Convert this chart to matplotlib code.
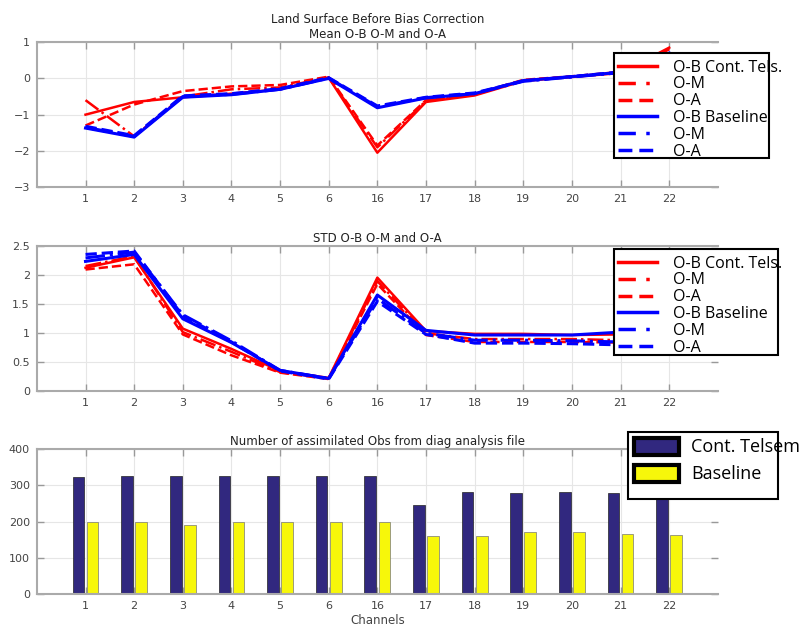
import numpy as np
import matplotlib
matplotlib.use("Agg")
import matplotlib.pyplot as plt
from matplotlib.patches import Rectangle, Patch
from matplotlib.lines import Line2D

# channels on the x axis
channels = ['1', '2', '3', '4', '5', '6', '16', '17', '18', '19', '20', '21', '22']

# mean departures
mean_ob_cont = [-1.0, -0.65, -0.52, -0.42, -0.3, 0.02, -2.05, -0.65, -0.47, -0.07, 0.04, 0.15, 0.85]
mean_om_cont = [-0.6, -1.6, -0.5, -0.3, -0.25, 0.03, -1.9, -0.62, -0.45, -0.05, 0.05, 0.17, 0.8]
mean_oa_cont = [-1.3, -0.72, -0.35, -0.22, -0.18, 0.05, -1.85, -0.6, -0.43, -0.04, 0.06, 0.18, 0.82]
mean_ob_base = [-1.37, -1.62, -0.52, -0.45, -0.3, 0.0, -0.81, -0.54, -0.42, -0.06, 0.05, 0.17, 0.7]
mean_om_base = [-1.35, -1.6, -0.5, -0.44, -0.3, 0.01, -0.78, -0.53, -0.42, -0.08, 0.04, 0.16, 0.65]
mean_oa_base = [-1.32, -1.58, -0.48, -0.42, -0.28, 0.02, -0.76, -0.52, -0.4, -0.07, 0.05, 0.18, 0.68]

# std departures
std_ob_cont = [2.13, 2.31, 1.08, 0.73, 0.35, 0.23, 1.96, 1.04, 0.99, 0.99, 0.97, 0.98, 1.0]
std_om_cont = [2.16, 2.33, 1.02, 0.68, 0.33, 0.22, 1.9, 1.0, 0.9, 0.9, 0.9, 0.88, 0.9]
std_oa_cont = [2.1, 2.19, 0.98, 0.62, 0.32, 0.21, 1.85, 0.97, 0.85, 0.85, 0.85, 0.84, 0.85]
std_ob_base = [2.24, 2.36, 1.25, 0.84, 0.36, 0.22, 1.66, 1.05, 0.97, 0.97, 0.97, 1.02, 1.05]
std_om_base = [2.3, 2.4, 1.32, 0.87, 0.36, 0.22, 1.6, 1.0, 0.88, 0.88, 0.87, 0.85, 0.85]
std_oa_base = [2.36, 2.42, 1.3, 0.85, 0.35, 0.21, 1.55, 0.98, 0.83, 0.83, 0.82, 0.8, 0.8]

# number of assimilated obs
nobs_cont = [322, 325, 325, 325, 325, 325, 325, 247, 281, 278, 281, 278, 280]
nobs_base = [199, 199, 190, 199, 199, 199, 199, 160, 161, 170, 170, 165, 163]

plt.rcParams['font.family'] = ['DejaVu Sans']

RED = '#ff0000'
BLUE = '#0000ff'
GRAY = '#444444'
LEG_FONT = ['Open Sans', 'DejaVu Sans']
x = np.arange(1, len(channels) + 1)

fig = plt.figure(figsize=(8.02, 6.30), dpi=100)
W, H = 802, 630


def style_axes(ax, ylim, yticks):
    ax.set_xlim(0, 14)
    ax.set_ylim(*ylim)
    ax.set_xticks(x)
    ax.set_xticklabels(channels)
    ax.set_yticks(yticks)
    ax.grid(True, color='#e6e6e6', lw=0.8)
    ax.set_axisbelow(True)
    ax.tick_params(direction='in', length=5, width=1, color='#999999',
                   labelcolor=GRAY, labelsize=8, top=True, right=True, pad=5)
    for s in ['top', 'bottom', 'left']:
        ax.spines[s].set_color('#aaaaaa')
        ax.spines[s].set_linewidth(1.5)
    ax.spines['right'].set_visible(False)


def legend_box(x0, y0, x1, y1):
    # frame in pixel coords (top-left origin); white fill sits over the axes,
    # the black frame on top so legend text may run over it
    xy = (x0 / W, 1 - y1 / H)
    w, h = (x1 - x0) / W, (y1 - y0) / H
    fig.patches.append(Rectangle(xy, w, h, transform=fig.transFigure,
                                 fc='white', ec='none', zorder=2))
    fig.patches.append(Rectangle(xy, w, h, transform=fig.transFigure,
                                 fill=False, ec='black', lw=1.5, zorder=10))


line_labels = ['O-B Cont. Tels.', 'O-M', 'O-A', 'O-B Baseline', 'O-M', 'O-A']
line_handles = [Line2D([], [], color=RED, lw=2.5, ls='-'),
                Line2D([], [], color=RED, lw=2.5, ls=(0, (5, 3, 1, 3))),
                Line2D([], [], color=RED, lw=2.5, ls=(0, (4, 2))),
                Line2D([], [], color=BLUE, lw=2.5, ls='-'),
                Line2D([], [], color=BLUE, lw=2.5, ls=(0, (5, 3, 1, 3))),
                Line2D([], [], color=BLUE, lw=2.5, ls=(0, (4, 2)))]


def line_legend(px, py):
    leg = fig.legend(line_handles, line_labels, loc='upper left',
                     bbox_to_anchor=(px / W, 1 - py / H), frameon=False,
                     labelspacing=0.05, handlelength=2.45, handletextpad=1.0,
                     borderpad=0.1, borderaxespad=0,
                     prop={'family': LEG_FONT, 'size': 11.5})
    leg.set_zorder(6)


# ---- mean
ax1 = fig.add_axes([0.046, 0.703, 0.849, 0.230])
ax1.plot(x, mean_ob_cont, color=RED, lw=1.8, ls='-')
ax1.plot(x, mean_om_cont, color=RED, lw=1.8, ls='-.')
ax1.plot(x, mean_oa_cont, color=RED, lw=1.8, ls='--')
ax1.plot(x, mean_ob_base, color=BLUE, lw=2.2, ls='-')
ax1.plot(x, mean_om_base, color=BLUE, lw=2.2, ls='-.')
ax1.plot(x, mean_oa_base, color=BLUE, lw=2.2, ls='--')
style_axes(ax1, (-3, 1), [-3, -2, -1, 0, 1])
ax1.set_title('Land Surface Before Bias Correction\nMean O-B O-M and O-A',
              fontsize=8.5, color='#222222', pad=3, linespacing=1.2)
legend_box(614, 53, 769, 158)
line_legend(616, 58)

# ---- std
ax2 = fig.add_axes([0.046, 0.379, 0.849, 0.230])
ax2.plot(x, std_ob_cont, color=RED, lw=1.8, ls='-')
ax2.plot(x, std_om_cont, color=RED, lw=1.8, ls='-.')
ax2.plot(x, std_oa_cont, color=RED, lw=1.8, ls='--')
ax2.plot(x, std_ob_base, color=BLUE, lw=2.2, ls='-')
ax2.plot(x, std_om_base, color=BLUE, lw=2.2, ls='-.')
ax2.plot(x, std_oa_base, color=BLUE, lw=2.2, ls='--')
style_axes(ax2, (0, 2.5), [0, 0.5, 1, 1.5, 2, 2.5])
ax2.set_yticklabels(['0', '0.5', '1', '1.5', '2', '2.5'])
ax2.set_title('STD O-B O-M and O-A', fontsize=8.5, color='#222222', pad=3)
legend_box(614, 249, 778, 355)
line_legend(616, 254)

# ---- counts
ax3 = fig.add_axes([0.046, 0.0571, 0.849, 0.230])
w = 0.24
ax3.bar(x - 0.145, nobs_cont, width=w, color='#31287f', edgecolor='#222222', lw=0.5)
ax3.bar(x + 0.145, nobs_base, width=w, color='#f7f70a', edgecolor='#777777', lw=0.5)
style_axes(ax3, (0, 400), [0, 100, 200, 300, 400])
ax3.set_title('Number of assimilated Obs from diag analysis file',
              fontsize=8.5, color='#222222', pad=3)
ax3.set_xlabel('Channels', fontsize=8.5, color=GRAY, labelpad=2)
legend_box(628, 432, 778, 499)
bar_handles = [Patch(fc='#31287f', ec='black', lw=3), Patch(fc='#f7f70a', ec='black', lw=3)]
leg3 = fig.legend(bar_handles, ['Cont. Telsem', 'Baseline'], loc='upper left',
                  bbox_to_anchor=(630 / W, 1 - 434 / H), frameon=False,
                  labelspacing=0.45, handlelength=2.5, handleheight=1.1,
                  handletextpad=0.7, borderpad=0.2, borderaxespad=0,
                  prop={'family': LEG_FONT, 'size': 13})
leg3.set_zorder(6)

fig.savefig('out.png', dpi=100)
